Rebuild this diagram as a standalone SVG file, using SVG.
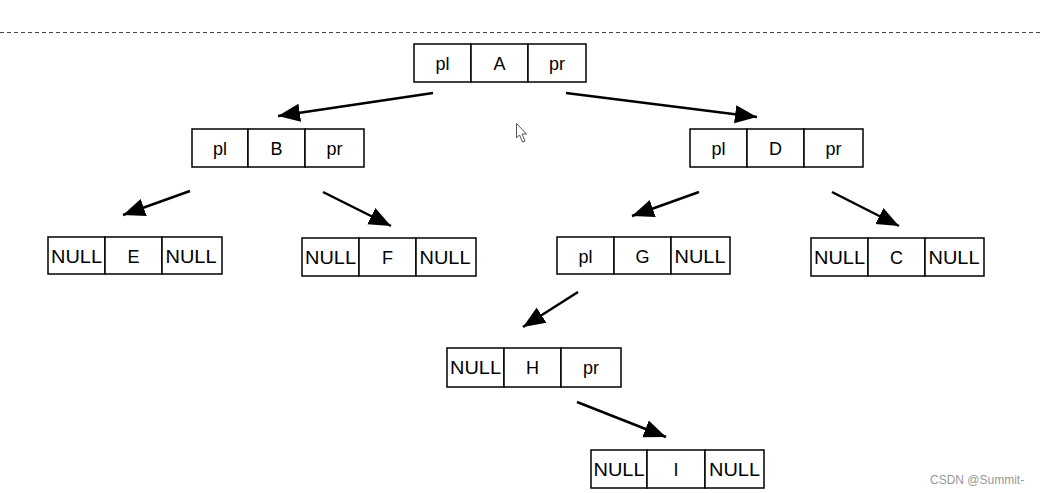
<svg xmlns="http://www.w3.org/2000/svg" width="1040" height="493" viewBox="0 0 1040 493">
<defs>
<style>
.cell{fill:#fff;stroke:#000;stroke-width:1.5}
.t{font-family:"Liberation Sans",Arial,sans-serif;font-size:18px;fill:#000;text-anchor:middle}
.n{font-family:"Liberation Sans",Arial,sans-serif;font-size:18px;fill:#000;text-anchor:middle}
.edge{stroke:#000;stroke-width:2.5;fill:none;marker-end:url(#ah)}
</style>
<marker id="ah" markerUnits="userSpaceOnUse" markerWidth="24" markerHeight="20" refX="22" refY="10" orient="auto">
<path d="M0,1 L22,10 L0,19 Z" fill="#000"/>
</marker>
</defs>
<rect width="1040" height="493" fill="#fff"/>
<line x1="0" y1="32.5" x2="1040" y2="32.5" stroke="#444" stroke-width="1" stroke-dasharray="4 3"/>

<g id="connectors">
<line class="edge" x1="433" y1="93" x2="278" y2="116"/>
<line class="edge" x1="566" y1="93" x2="757" y2="117"/>
<line class="edge" x1="190" y1="191" x2="123" y2="215"/>
<line class="edge" x1="323" y1="192" x2="391" y2="226"/>
<line class="edge" x1="699" y1="192" x2="632" y2="216"/>
<line class="edge" x1="832" y1="192" x2="899" y2="226"/>
<line class="edge" x1="578" y1="292" x2="523" y2="327"/>
<line class="edge" x1="577" y1="402" x2="666" y2="437"/>
</g>

<g id="nodeA">
<rect class="cell" x="414" y="44" width="57" height="38"/><rect class="cell" x="471" y="44" width="57" height="38"/><rect class="cell" x="528" y="44" width="58" height="38"/>
<text class="t" x="442.5" y="70">pl</text><text class="t" x="499.5" y="70">A</text><text class="t" x="557" y="70">pr</text>
</g>
<g id="nodeB">
<rect class="cell" x="192" y="129" width="56" height="38"/><rect class="cell" x="248" y="129" width="57" height="38"/><rect class="cell" x="305" y="129" width="59" height="38"/>
<text class="t" x="220" y="155">pl</text><text class="t" x="276.5" y="155">B</text><text class="t" x="334.5" y="155">pr</text>
</g>
<g id="nodeD">
<rect class="cell" x="690" y="129" width="57" height="38"/><rect class="cell" x="747" y="129" width="57" height="38"/><rect class="cell" x="804" y="129" width="59" height="38"/>
<text class="t" x="718.5" y="155">pl</text><text class="t" x="775.5" y="155">D</text><text class="t" x="833.5" y="155">pr</text>
</g>
<g id="nodeE">
<rect class="cell" x="48" y="237" width="57" height="37"/><rect class="cell" x="105" y="237" width="57" height="37"/><rect class="cell" x="162" y="237" width="60" height="37"/>
<text class="n" x="76.5" y="263" textLength="51" lengthAdjust="spacingAndGlyphs">NULL</text><text class="t" x="133.5" y="263">E</text><text class="n" x="191" y="263" textLength="51" lengthAdjust="spacingAndGlyphs">NULL</text>
</g>
<g id="nodeF">
<rect class="cell" x="302" y="238" width="57" height="38"/><rect class="cell" x="359" y="238" width="57" height="38"/><rect class="cell" x="416" y="238" width="60" height="38"/>
<text class="n" x="330.5" y="264" textLength="51" lengthAdjust="spacingAndGlyphs">NULL</text><text class="t" x="387.5" y="264">F</text><text class="n" x="445" y="264" textLength="51" lengthAdjust="spacingAndGlyphs">NULL</text>
</g>
<g id="nodeG">
<rect class="cell" x="557" y="237" width="57" height="37"/><rect class="cell" x="614" y="237" width="57" height="37"/><rect class="cell" x="671" y="237" width="59" height="37"/>
<text class="t" x="585.5" y="263">pl</text><text class="t" x="642.5" y="263">G</text><text class="n" x="700" y="263" textLength="51" lengthAdjust="spacingAndGlyphs">NULL</text>
</g>
<g id="nodeC">
<rect class="cell" x="811" y="238" width="57" height="38"/><rect class="cell" x="868" y="238" width="57" height="38"/><rect class="cell" x="925" y="238" width="59" height="38"/>
<text class="n" x="839.5" y="264" textLength="51" lengthAdjust="spacingAndGlyphs">NULL</text><text class="t" x="896.5" y="264">C</text><text class="n" x="954" y="264" textLength="51" lengthAdjust="spacingAndGlyphs">NULL</text>
</g>
<g id="nodeH">
<rect class="cell" x="447" y="348" width="57" height="39"/><rect class="cell" x="504" y="348" width="57" height="39"/><rect class="cell" x="561" y="348" width="60" height="39"/>
<text class="n" x="475.5" y="374" textLength="51" lengthAdjust="spacingAndGlyphs">NULL</text><text class="t" x="532.5" y="374">H</text><text class="t" x="591" y="374">pr</text>
</g>
<g id="nodeI">
<rect class="cell" x="591" y="450" width="56" height="38"/><rect class="cell" x="647" y="450" width="58" height="38"/><rect class="cell" x="705" y="450" width="59" height="38"/>
<text class="n" x="619" y="476" textLength="51" lengthAdjust="spacingAndGlyphs">NULL</text><text class="t" x="676" y="476">I</text><text class="n" x="734.5" y="476" textLength="51" lengthAdjust="spacingAndGlyphs">NULL</text>
</g>

<path d="M516.5,123.5 L516.5,138 L519.5,135 L522.5,142 L525,141 L522,134 L526.5,134 Z" fill="#fff" stroke="#555" stroke-width="1"/>
<text x="930" y="484" font-family="Liberation Sans,Arial,sans-serif" font-size="12" fill="#999">CSDN @Summit-</text>
</svg>
